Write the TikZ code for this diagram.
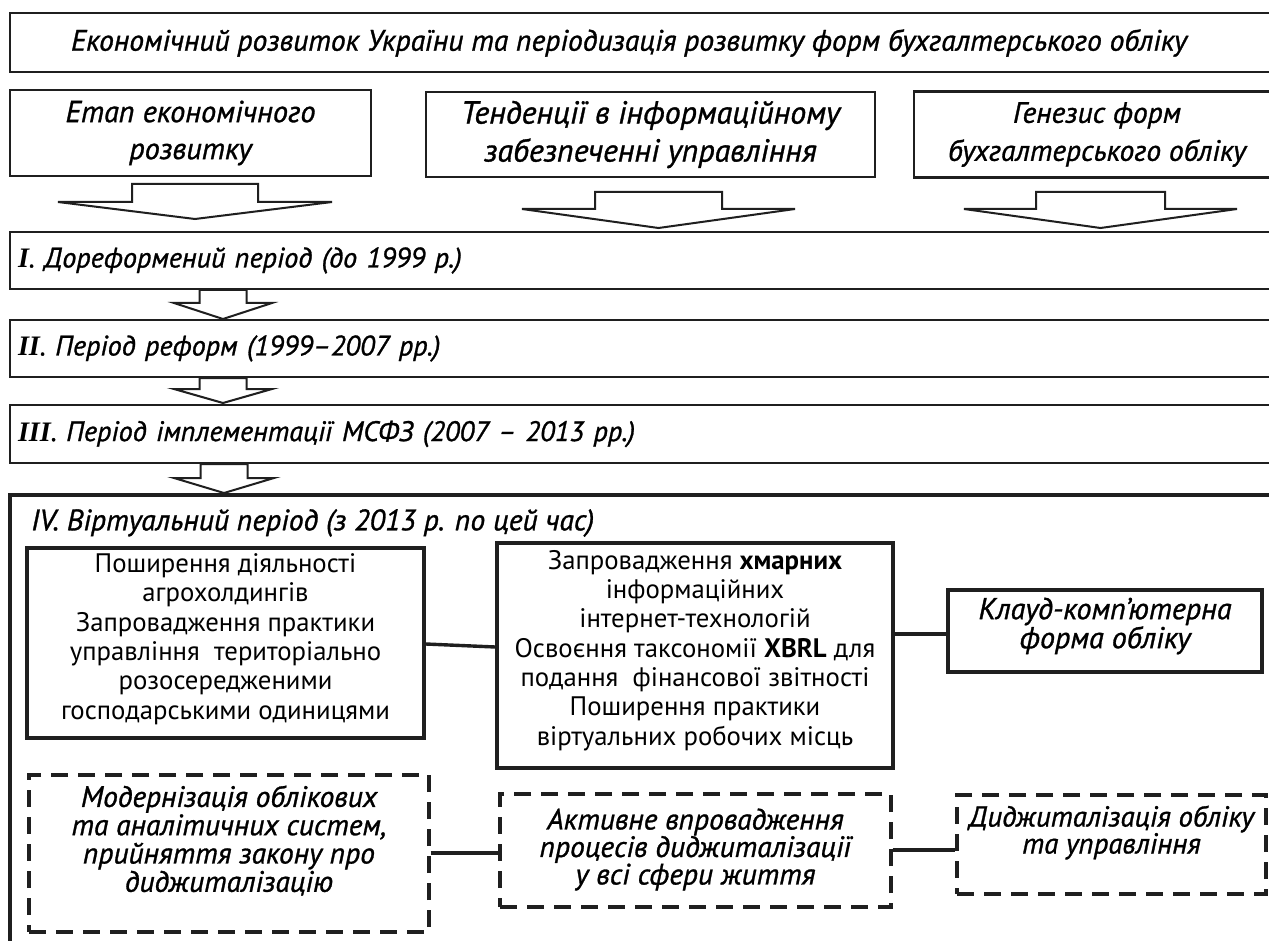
\documentclass[tikz,border=0pt]{standalone}
\usepackage{fontspec}
\setmainfont{PT Sans}[ItalicFeatures={FakeBold=1}]
\newfontfamily\romfont{Liberation Serif}
\usetikzlibrary{calc}
\newlength\calw
\newcommand\calib[4]{%
  \settowidth\calw{#2\fontsize{10}{12}\selectfont #3}%
  \pgfmathsetmacro#1{10*#4/\calw}}
\AtBeginDocument{%
\calib\sT{\itshape}{Економічний розвиток України та періодизація розвитку форм бухгалтерського обліку}{1116}%
\calib\sBa{\itshape}{Етап економічного}{250}%
\calib\sBb{\itshape}{Тенденції в інформаційному}{379}%
\calib\sBc{\itshape}{бухгалтерського обліку}{298}%
\calib\sP{\itshape}{{\romfont\bfseries\itshape III}. Період імплементації МСФЗ (2007 \textendash{} 2013 рр.)}{604}%
\calib\sIV{\itshape}{IV. Віртуальний період (з 2013 р. по цей час)}{563}%
\calib\sU{}{господарськими одиницями}{329}%
\calib\sC{\itshape}{Клауд-комп’ютерна}{253}%
\calib\sD{\itshape}{та аналітичних систем,}{315}%
\calib\sF{\itshape}{Диджиталізація обліку}{285}%
}
\begin{document}
\begin{tikzpicture}[x=1pt,y=-1pt,
  box/.style={draw=black!88,line width=2.2pt,inner sep=0pt,align=center},
  ibox/.style={draw=black!88,line width=3.4pt,inner sep=0pt},
  dbox/.style={draw=black!88,line width=3.4pt,inner sep=0pt,dash pattern=on 17pt off 10pt},
  txt/.style={inner sep=0pt,align=center},
  harrow/.style={draw=black!88,line width=2pt,fill=white,line join=miter},
  link/.style={draw=black!88,line width=3.4pt}
]
\useasboundingbox (0,0) rectangle (1269,941);
\clip (0,0) rectangle (1269,941);
\fill[white] (0,0) rectangle (1269,941);

% top row
\node[box,minimum width=1270pt,minimum height=59pt] (top) at (645,42.5) {};
\node[txt,font=\fontsize{\sT}{37}\selectfont\itshape] (toptxt) at (629,43)
  {Економічний розвиток України та періодизація розвитку форм бухгалтерського обліку};
\node[box,font=\fontsize{\sBa}{37}\selectfont\itshape,minimum width=361pt,minimum height=86pt] (b1) at (190.5,133)
  {Етап економічного\\розвитку};
\node[box,font=\fontsize{\sBb}{38}\selectfont\itshape,minimum width=449pt,minimum height=85pt] (b2) at (650.5,134.5)
  {Тенденції в інформаційному\\забезпеченні управління};
\node[box,font=\fontsize{\sBc}{38}\selectfont\itshape,minimum width=366pt,minimum height=86pt] (b3) at (1097,134.5)
  {Генезис форм\\бухгалтерського обліку};

% block arrows
\newcommand\hollowarrow[6]{%
  \draw[harrow] ({#1-#5},#2) -- ({#1+#5},#2) -- ({#1+#5},#3) -- ({#1+#6},#3)
    -- (#1,#4) -- ({#1-#6},#3) -- ({#1-#5},#3) -- cycle;}
\hollowarrow{195}{184}{202}{219}{63}{137}
\hollowarrow{658.5}{192}{209}{228}{63.5}{136.5}
\hollowarrow{1100.5}{192}{209}{228}{64.5}{136.5}

% periods
\tikzset{ptx/.style={box,font=\fontsize{\sP}{33}\selectfont\itshape,align=left,text width=1264pt,minimum width=1280pt}}
\node[ptx,minimum height=57pt] (p1) at (650,260.5)
  {{\romfont\bfseries\itshape I}. Дореформений період (до 1999 р.)};
\hollowarrow{223}{290}{303}{319}{23.5}{49}
\node[ptx,minimum height=57pt] (p2) at (650,348.5)
  {{\romfont\bfseries\itshape II}. Період реформ (1999\textendash2007 рр.)};
\hollowarrow{223}{378}{389}{403}{23.5}{49}
\node[ptx,minimum height=58pt] (p3) at (650,434)
  {{\romfont\bfseries\itshape III}. Період імплементації МСФЗ (2007 \textendash{} 2013 рр.)};
\hollowarrow{224}{464}{478}{493}{23.5}{50}

% period IV frame
\node[ibox,minimum width=1280pt,minimum height=500pt] (p4) at (650,745) {};
\node[txt,font=\fontsize{\sIV}{33}\selectfont\itshape,anchor=west] (p4t) at (31,523)
  {IV. Віртуальний період (з 2013 р. по цей час)};

% solid boxes
\node[ibox,minimum width=397pt,minimum height=190pt] (ba) at (225.5,643) {};
\node[txt,font=\fontsize{\sU}{29.4}\selectfont] (tA) at ([yshift=4pt]ba.center)
  {Поширення діяльності\\агрохолдингів\\Запровадження практики\\управління\ \ територіально\\розосередженими\\господарськими одиницями};
\node[ibox,minimum width=396pt,minimum height=225pt] (bb) at (695,655.5) {};
\node[txt,font=\fontsize{\sU}{29.3}\selectfont] (tB) at ([yshift=5pt]bb.center)
  {Запровадження \textbf{хмарних}\\інформаційних\\інтернет-технологій\\Освоєння таксономії \textbf{XBRL} для\\подання\ \ фінансової звітності\\Поширення практики\\віртуальних робочих місць};
\node[ibox,minimum width=314pt,minimum height=82pt] (bc) at (1105,631) {};
\node[txt,font=\fontsize{\sC}{25.5}\selectfont\itshape] (tC) at ([yshift=5pt]bc.center)
  {Клауд-комп’ютерна\\форма обліку};

% dashed boxes
\node[dbox,minimum width=400pt,minimum height=157pt] (bd) at (229,853.5) {};
\node[txt,font=\fontsize{\sD}{28.3}\selectfont\itshape] (tD) at ([yshift=13pt]bd.center)
  {Модернізація облікових\\та аналітичних систем,\\прийняття закону про\\диджиталізацію};
\node[dbox,minimum width=391pt,minimum height=113pt] (be) at (695.5,850.5) {};
\node[txt,font=\fontsize{\sD}{27.5}\selectfont\itshape] (tE) at ([yshift=1pt]be.center)
  {Активне впровадження\\процесів диджиталізації\\у всі сфери життя};
\node[dbox,minimum width=309pt,minimum height=99pt] (bf) at (1111.5,844.5) {};
\node[txt,font=\fontsize{\sF}{27}\selectfont\itshape] (tF) at ([yshift=12pt]bf.center)
  {Диджиталізація обліку\\та управління};

% connectors
\coordinate (yab1) at (0,644);
\coordinate (yab2) at (0,647);
\coordinate (ybc) at (0,634);
\coordinate (yde) at (0,853);
\coordinate (yef) at (0,850);
\draw[link] (ba.east|-yab1) -- (bb.west|-yab2);
\draw[link] (bb.east|-ybc) -- (bc.west|-ybc);
\draw[link] (bd.east|-yde) -- (be.west|-yde);
\draw[link] (be.east|-yef) -- (bf.west|-yef);
\end{tikzpicture}
\end{document}
